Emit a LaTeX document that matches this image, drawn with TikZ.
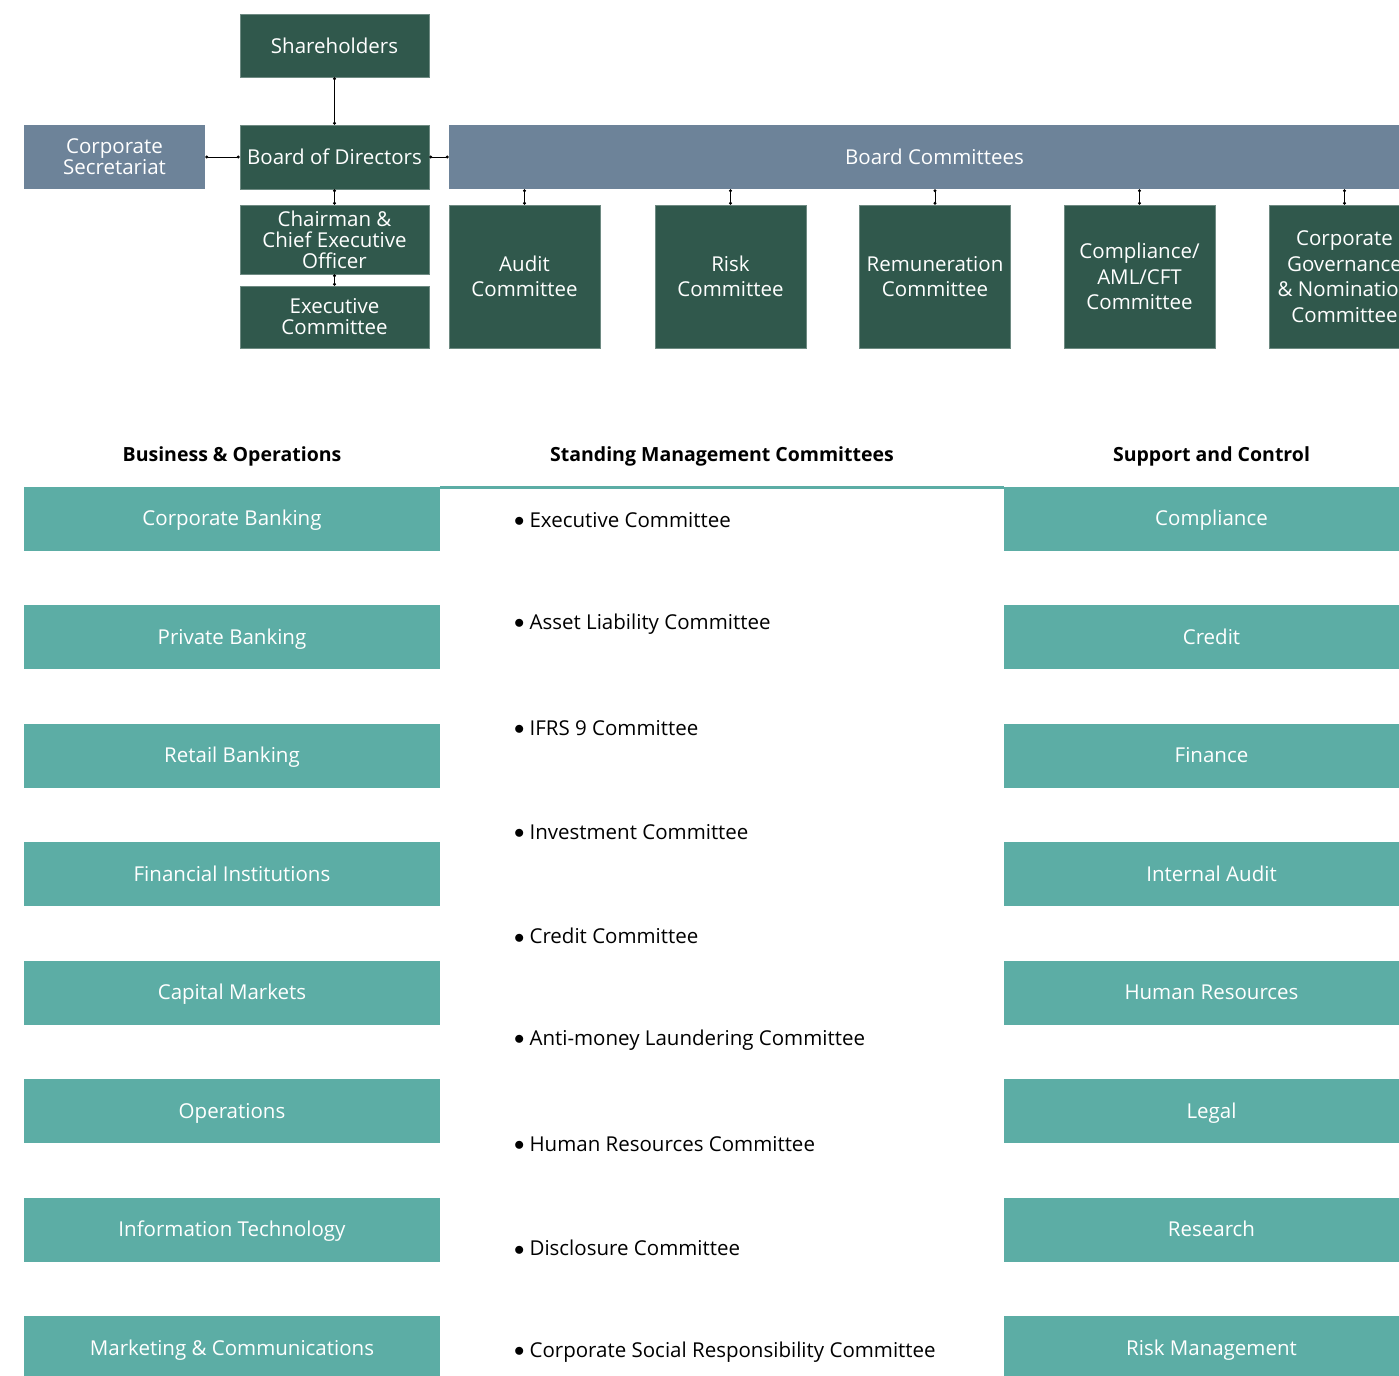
\documentclass[tikz,border=0pt]{standalone}
\usepackage{fontspec}
\setmainfont{Open Sans}
\usetikzlibrary{arrows.meta}
\definecolor{boardgreen}{RGB}{48,88,76}
\definecolor{slategrey}{RGB}{109,131,153}
\definecolor{unitteal}{RGB}{92,173,165}
\tikzset{
  box/.style={
    inner sep=0pt,
    align=center,
    text=white,
    font=\fontsize{20.5}{21}\selectfont
  },
  box-green/.style={box, fill=boardgreen, draw=boardgreen!70!white, line width=0.6pt},
  box-slate/.style={box, fill=slategrey, minimum height=64pt},
  box-teal/.style={box, fill=unitteal, minimum width=416pt, minimum height=64pt, text depth=0pt, text height=14.5pt},
  loose/.style={font=\fontsize{20.5}{25.5}\selectfont},
  heading/.style={font=\bfseries\fontsize{19.5}{22}\selectfont},
  bullet-item/.style={anchor=west, inner sep=0pt, font=\fontsize{20.5}{22}\selectfont},
  link/.style={line width=0.8pt, {Circle[length=3pt]}-{Circle[length=3pt]}}
}
\newcommand{\itemdot}{\raisebox{0.5pt}{$\bullet$}\hspace{5pt}}

\begin{document}
\begin{tikzpicture}[x=1pt, y=-1pt]
  \useasboundingbox (0,0) rectangle (1399,1375);
  \clip (0,0) rectangle (1399,1375);

  % Board level
  \node[box-green, minimum width=189pt, minimum height=63pt] (share) at (334.5,45.5) {Shareholders};
  \node[box-green, minimum width=189pt, minimum height=64pt] (board) at (334.5,157) {Board of Directors};
  \node[box-slate, minimum width=181pt] (secretariat) at (114.5,157) {Corporate\\Secretariat};
  \node[box-slate, minimum width=971pt] (bcomm) at (934.5,157) {Board Committees};
  \node[box-green, minimum width=189pt, minimum height=69pt] (chair) at (334.5,239.5) {Chairman \&\\Chief Executive\\Officer};
  \node[box-green, minimum width=189pt, minimum height=62pt] (execcomm) at (334.5,317) {Executive\\Committee};

  % Board committees
  \foreach \name/\xpos/\label in {
      audit/524.5/{Audit\\Committee},
      risk/730.5/{Risk\\Committee},
      remun/935/{Remuneration\\Committee},
      aml/1139.5/{Compliance/\\AML/CFT\\Committee},
      govern/1344.5/{Corporate\\Governance\\\& Nomination\\Committee}} {
    \node[box-green, loose, minimum width=151pt, minimum height=143pt] (\name) at (\xpos,276.5) {\label};
    \draw[link] (\name.north |- bcomm.south) -- (\name.north);
  }

  % Connectors
  \draw[link] (share) -- (board);
  \draw[link] (board) -- (secretariat);
  \draw[link] (board) -- (bcomm);
  \draw[link] (board) -- (chair);
  \draw[link] (chair) -- (execcomm);

  % Headings
  \node[heading] (bizhead) at (232,456) {Business \& Operations};
  \node[heading] (standhead) at (722,456) {Standing Management Committees};
  \node[heading] (supphead) at (1211.5,456) {Support and Control};

  % Business & Operations
  \foreach \name/\label [count=\i from 0] in {
      corpbank/Corporate Banking,
      privbank/Private Banking,
      retail/Retail Banking,
      finst/Financial Institutions,
      capmkt/Capital Markets,
      ops/Operations,
      infotech/Information Technology,
      marcom/Marketing \& Communications} {
    \node[box-teal] (\name) at (232,{518.5+118.5*\i}) {\label};
  }

  % Support and Control
  \foreach \name/\label [count=\i from 0] in {
      compl/Compliance,
      credit/Credit,
      finance/Finance,
      intaudit/Internal Audit,
      hr/Human Resources,
      legal/Legal,
      research/Research,
      riskmgmt/Risk Management} {
    \node[box-teal, minimum width=415pt] (\name) at (1211.5,{518.5+118.5*\i}) {\label};
  }
  \draw[unitteal, line width=2.5pt] ([yshift=-1.25pt]corpbank.north east) -- ([yshift=-1.25pt]compl.north west);

  % Standing Management Committees
  \foreach \name/\label [count=\i from 0] in {
      exec/Executive Committee,
      alco/Asset Liability Committee,
      ifrs/IFRS 9 Committee,
      invest/Investment Committee,
      credcomm/Credit Committee,
      amlcomm/Anti-money Laundering Committee,
      hrcomm/Human Resources Committee,
      disclose/Disclosure Committee,
      csr/Corporate Social Responsibility Committee} {
    \node[bullet-item] (\name) at (514,{520+104*\i}) {\itemdot\label};
  }
\end{tikzpicture}
\end{document}
